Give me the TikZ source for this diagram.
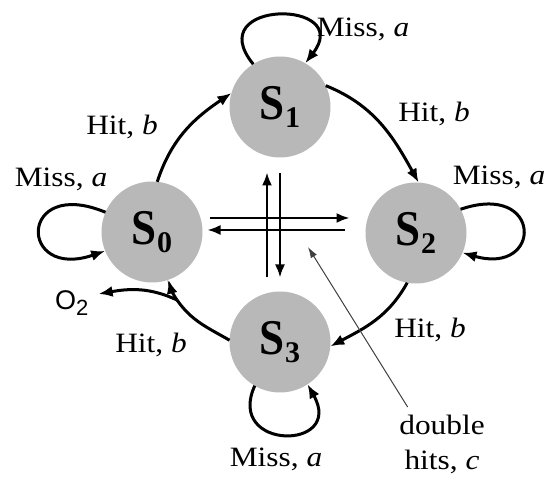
\documentclass[tikz,border=0pt]{standalone}
\usepackage{fontspec}
\setmainfont{Liberation Serif}[FakeStretch=1.12, BoldFont={Liberation Serif Bold}, ItalicFont={Liberation Serif Italic}]
\newfontfamily\statefont{Liberation Serif Bold}[FakeStretch=0.9]
\newfontfamily\subfont{Liberation Serif Bold}
\newfontfamily\otwofont{Liberation Sans}
\usetikzlibrary{arrows.meta}
\newcommand\stlabel[1]{{\statefont\fontsize{50}{50}\selectfont S}\raisebox{-8pt}{\subfont\fontsize{30}{30}\selectfont #1}}
\begin{document}
\begin{tikzpicture}[x=1pt,y=1pt,
  state/.style={circle, fill=black!28, minimum size=101pt, inner sep=0pt, outer sep=0pt},
  arc/.style={line width=3pt, -{Latex[length=14pt,width=11pt]}},
  plainarc/.style={line width=3pt},
  cross/.style={line width=2.2pt, -{Latex[length=13pt,width=10pt]}},
  lbl/.style={anchor=base, inner sep=0pt, font=\fontsize{28}{28}\selectfont},
  ptr/.style={line width=1pt, black!75, -{Latex[length=11pt,width=7pt]}}]
\useasboundingbox (0,0) rectangle (550,481);

% states
\node[state] (s0) at (152,249) {\stlabel{0}};
\node[state] (s1) at (280,374) {\stlabel{1}};
\node[state] (s2) at (416,248) {\stlabel{2}};
\node[state] (s3) at (280,139) {\stlabel{3}};

% labels
\node[lbl] (m1) at (363,444) {Miss, \textit{a}};
\node[lbl] (m0) at (61,294) {Miss, \textit{a}};
\node[lbl] (m2) at (499,296) {Miss, \textit{a}};
\node[lbl] (m3) at (276,14) {Miss, \textit{a}};
\node[lbl] (h01) at (122,346) {Hit, \textit{b}};
\node[lbl] (h12) at (434,359) {Hit, \textit{b}};
\node[lbl] (h23) at (430,143) {Hit, \textit{b}};
\node[lbl] (h30) at (151,128) {Hit, \textit{b}};
\node[lbl, anchor=north, align=center, font=\fontsize{28}{35}\selectfont] (dh) at (442,66) {double\\hits, \textit{c}};
\node[inner sep=0pt, anchor=base west, font=\otwofont\fontsize{27}{27}\selectfont] (o2) at (55,171) {O\raisebox{-6pt}{\fontsize{22}{22}\selectfont 2}};

% self loops
\draw[arc] (s1.122) .. controls (200,482) and (355,482) .. (s1.60);
\draw[arc] (s0.157) .. controls (18,305) and (18,200) .. (s0.202);
\draw[arc] (s2.28) .. controls (543,300) and (543,205) .. (s2.-23);
\draw[arc] (s3.240) .. controls (225,30) and (345,30) .. (s3.-57);

% ring transitions
\draw[arc] (s0.84) to[out=72,in=214] (s1.164);
\draw[arc] (s1.25) to[out=-22,in=119] (s2.87);
\draw[arc] (s2.260) to[out=-119,in=28] (s3.-5);
\coordinate (br) at (177,181);
\draw[plainarc] (s3.178) to[out=150,in=-55] (br);
\draw[arc] (br) to[out=125,in=-75] (s0.289);
\draw[arc] (br) to[out=155,in=10] ([shift={(10,-3)}]o2.north east);

% double hits
\draw[cross] ([shift={(7,14)}]s0.east) -- ([shift={(-16,15)}]s2.west);
\draw[cross] ([shift={(-21,3)}]s2.west) -- ([shift={(5,2)}]s0.east);
\draw[cross] ([shift={(-13,14)}]s3.north) -- ([shift={(-13,-15)}]s1.south);
\draw[cross] ([shift={(0,-16)}]s1.south) -- ([shift={(0,14)}]s3.north);

\coordinate (dhtip) at (308,234);
\draw[ptr] ([shift={(8.5,8)}]dh.north west) -- (dhtip);
\end{tikzpicture}
\end{document}
